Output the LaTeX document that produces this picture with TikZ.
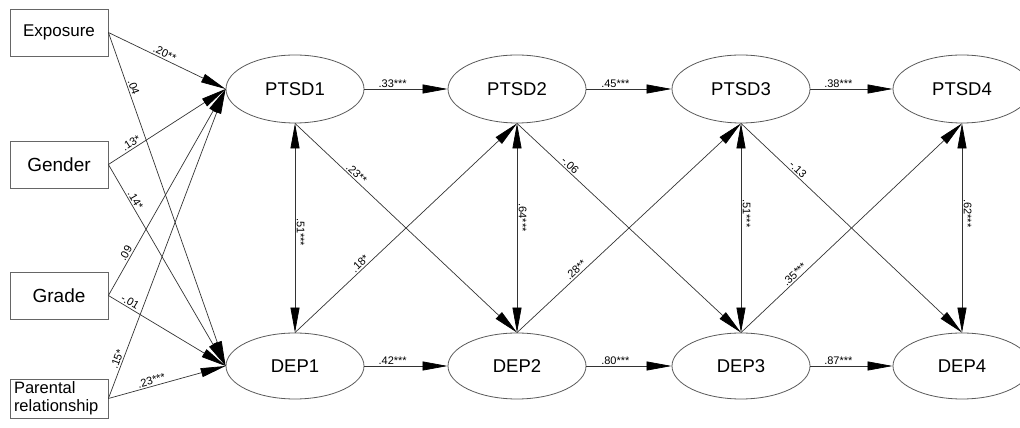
\documentclass[tikz,border=0pt]{standalone}
\usepackage{fontspec}
\setmainfont{Liberation Sans}
\usetikzlibrary{arrows.meta,shapes.geometric}
\begin{document}
\begin{tikzpicture}[x=1pt,y=1pt,
  lat/.style={ellipse, draw=black!65, line width=0.8pt, minimum width=138pt, minimum height=68pt, inner sep=0pt, font=\fontsize{18.5}{20}\selectfont},
  obs/.style={rectangle, draw=black!60, line width=0.8pt, minimum width=98pt, minimum height=47pt, inner sep=0pt},
  tip/.tip={Triangle[length=25pt,width=9pt,color=black]},
  arr/.style={draw=black!80, line width=0.7pt, -tip},
  dbl/.style={draw=black!80, line width=0.7pt, tip-tip},
  lab/.style={font=\fontsize{11}{12}\selectfont, inner sep=1.5pt, sloped, above},
  vlab/.style={font=\fontsize{11}{12}\selectfont, inner sep=1.5pt, rotate=-90, anchor=south}
]
\path[use as bounding box] (0,0) rectangle (1020,428);
\clip (0,0) rectangle (1020,428);

% observed covariates
\node[obs, font=\fontsize{17}{18}\selectfont] (exp) at (59,395.5) {Exposure};
\node[obs, font=\fontsize{19}{20}\selectfont] (gen) at (59,263.5) {Gender};
\node[obs, font=\fontsize{19}{20}\selectfont] (gra) at (59,132.5) {Grade};
\node[obs, minimum height=39pt, align=left, text width=90pt, inner xsep=4pt, font=\fontsize{16.5}{18}\selectfont] (par) at (59,29.5) {Parental\\relationship};

% latent variables
\node[lat] (p1) at (295,339) {PTSD1};
\node[lat] (p2) at (517,339) {PTSD2};
\node[lat] (p3) at (741,339) {PTSD3};
\node[lat] (p4) at (962,339) {PTSD4};
\node[lat, minimum height=66pt] (d1) at (295,62) {DEP1};
\node[lat, minimum height=66pt] (d2) at (517,62) {DEP2};
\node[lat, minimum height=66pt] (d3) at (741,62) {DEP3};
\node[lat, minimum height=66pt] (d4) at (962,62) {DEP4};

% covariate paths
\draw[arr] (exp.east) -- node[lab,pos=0.46]{.20**} (p1.west);
\draw[arr] (exp.east) -- node[lab,pos=0.17]{.04} (d1.west);
\draw[arr] (gen.east) -- node[lab,pos=0.22]{.13*} (p1.west);
\draw[arr] (gen.east) -- node[lab,pos=0.19]{.14*} (d1.west);
\draw[arr] (gra.east) -- node[lab,pos=0.19]{.09} (p1.west);
\draw[arr] (gra.east) -- node[lab,pos=0.16]{-.01} (d1.west);
\draw[arr] (par.east) -- node[lab,pos=0.12]{.15*} (p1.west);
\draw[arr] (par.east) -- node[lab,pos=0.38]{.23***} (d1.west);

% autoregressive paths
\draw[arr] (p1.east) -- node[lab,pos=0.34]{.33***} (p2.west);
\draw[arr] (p2.east) -- node[lab,pos=0.34]{.45***} (p3.west);
\draw[arr] (p3.east) -- node[lab,pos=0.34]{.38***} (p4.west);
\draw[arr] (d1.east) -- node[lab,pos=0.34]{.42***} (d2.west);
\draw[arr] (d2.east) -- node[lab,pos=0.34]{.80***} (d3.west);
\draw[arr] (d3.east) -- node[lab,pos=0.34]{.87***} (d4.west);

% covariances
\draw[dbl] (p1.south) -- node[vlab,pos=0.52]{.51***} (d1.north);
\draw[dbl] (p2.south) -- node[vlab,pos=0.45]{.64***} (d2.north);
\draw[dbl] (p3.south) -- node[vlab,pos=0.43]{.51***} (d3.north);
\draw[dbl] (p4.south) -- node[vlab,pos=0.43]{.62***} (d4.north);

% cross-lagged paths
\draw[arr] (p1.south) -- node[lab,pos=0.26]{.23**} (d2.north);
\draw[arr] (d1.north) -- node[lab,pos=0.31]{.18*} (p2.south);
\draw[arr] (p2.south) -- node[lab,pos=0.22]{-.06} (d3.north);
\draw[arr] (d2.north) -- node[lab,pos=0.28]{.28**} (p3.south);
\draw[arr] (p3.south) -- node[lab,pos=0.24]{-.13} (d4.north);
\draw[arr] (d3.north) -- node[lab,pos=0.26]{.35***} (p4.south);
\end{tikzpicture}
\end{document}
